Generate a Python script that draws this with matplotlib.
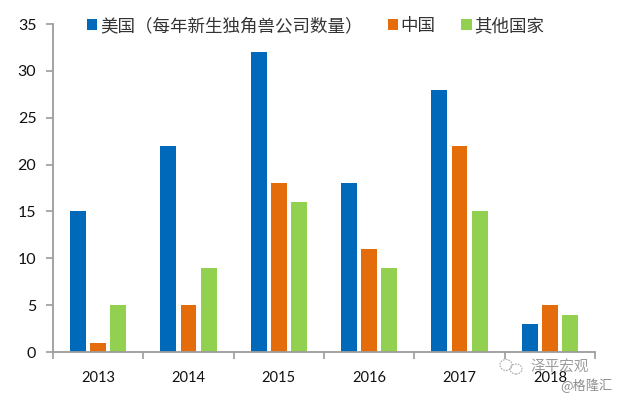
import matplotlib
matplotlib.use("Agg")
import matplotlib.pyplot as plt
from matplotlib.patches import Ellipse
import numpy as np

plt.rcParams["font.family"] = ["Lato", "Noto Sans CJK SC", "DejaVu Sans"]

years = ["2013", "2014", "2015", "2016", "2017", "2018"]
usa = [15, 22, 32, 18, 28, 3]
china = [1, 5, 18, 11, 22, 5]
other = [5, 9, 16, 9, 15, 4]

series_names = ["美国（每年新生独角兽公司数量）", "中国", "其他国家"]
colors = ["#0069BA", "#E46C0A", "#92D050"]
y_ticks = [0, 5, 10, 15, 20, 25, 30, 35]

fig = plt.figure(figsize=(6.2, 4.0), dpi=100)
ax = fig.add_axes([53 / 620, 1 - 352 / 400, 542 / 620, 328 / 400])

x = np.arange(len(years))
bar_w = 0.177
step = 0.2215
for offset, values, color, name in zip([-step, 0, step], [usa, china, other], colors, series_names):
    ax.bar(x + offset, values, width=bar_w, color=color, label=name)

ax.set_xlim(-0.5, 5.5)
ax.set_ylim(0, 35)
ax.set_yticks(y_ticks)
ax.set_xticks(np.arange(-0.5, 6, 1))
ax.set_xticklabels([])
ax.set_xticks(x, labels=years, minor=True)

for side in ["top", "right"]:
    ax.spines[side].set_visible(False)
for side in ["left", "bottom"]:
    ax.spines[side].set_color("#9C9C9C")
    ax.spines[side].set_linewidth(1.3)

ax.tick_params(axis="y", length=5, width=1.2, color="#9C9C9C", labelsize=11.5, pad=7, labelcolor="#111111")
ax.tick_params(axis="x", which="major", length=5, width=1.2, color="#9C9C9C")
ax.tick_params(axis="x", which="minor", length=0, labelsize=10.5, pad=14, labelcolor="#111111")

# 图例单独摆放
leg_font = ["Noto Sans CJK SC", "DejaVu Sans"]
legend = ax.legend(
    loc="upper left",
    bbox_to_anchor=(0.046, 1.048),
    ncol=3,
    frameon=False,
    handlelength=0.6,
    handleheight=0.6,
    handletextpad=0.15,
    columnspacing=1.45,
    borderpad=0,
    prop={"family": leg_font, "size": 12.6, "weight": "light"},
)
for txt in legend.get_texts():
    txt.set_color("#333333")

# 水印
fig.text(530 / 620, 1 - 367 / 400, "泽平宏观", family=leg_font, fontsize=10.5, color="#8A8A8A",
         ha="left", va="center", alpha=0.85)
fig.text(560 / 620, 1 - 386 / 400, "@格隆汇", family=leg_font, fontsize=9.5, color="#8E8E8E",
         ha="left", va="center")
fig.add_artist(Ellipse((506 / 620, 1 - 365 / 400), 12 / 620, 11 / 400, fill=False,
                       ec="#A8A8A8", lw=0.8, ls=(0, (1.5, 1))))
fig.add_artist(Ellipse((516 / 620, 1 - 369 / 400), 12 / 620, 10 / 400, fill=False,
                       ec="#A8A8A8", lw=0.8, ls=(0, (1.5, 1))))

fig.savefig("out.png", dpi=100)
